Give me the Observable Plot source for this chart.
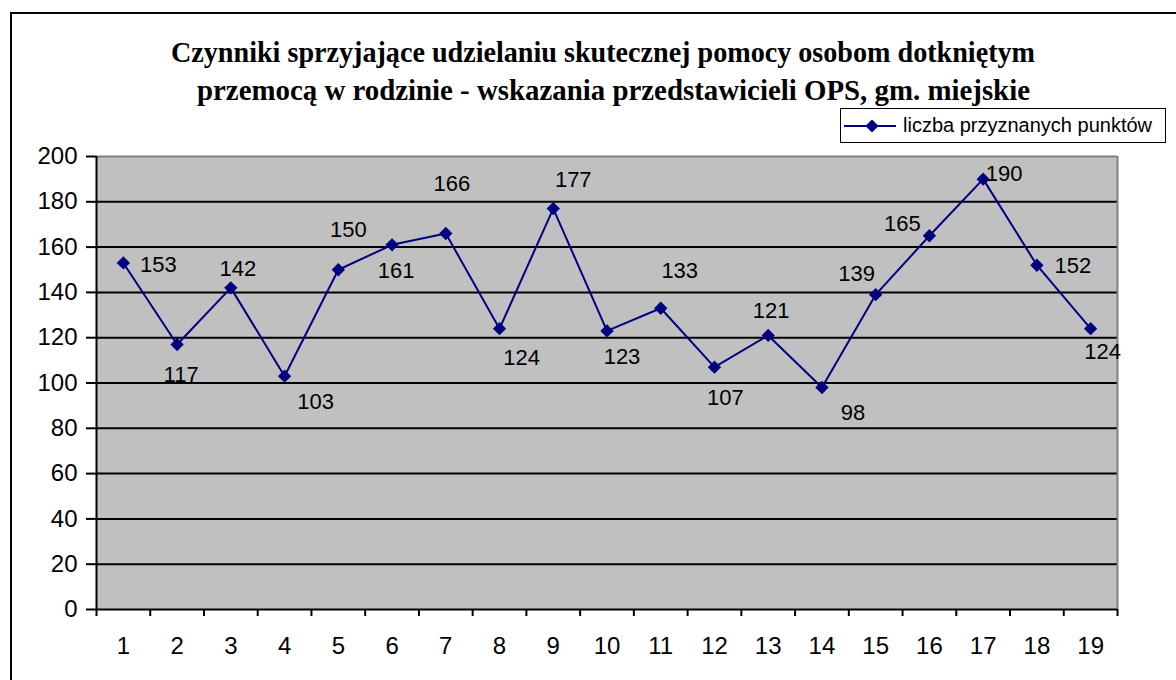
<!DOCTYPE html>
<html>
<head>
<meta charset="utf-8">
<script src="https://cdn.jsdelivr.net/npm/d3@7"></script>
<script src="https://cdn.jsdelivr.net/npm/@observablehq/plot@0.6"></script>
<style>
  html, body { margin: 0; padding: 0; background: #fff; overflow: hidden; }
  #wrap { position: relative; width: 1176px; height: 680px; overflow: hidden; font-family: "Liberation Sans", Arial, sans-serif; color: #000; }
  #border { position: absolute; left: 10px; top: 12px; width: 1200px; height: 700px; border: 2px solid #000; box-sizing: border-box; }
  #chart { position: absolute; left: 0; top: 0; }
  #title { position: absolute; left: 0; top: 0; }
  #legend { position: absolute; left: 840px; top: 108px; width: 326px; height: 35px; box-sizing: border-box; border: 1.5px solid #000; background: #fff; display: flex; align-items: center; }
  #legend span { font-size: 20px; font-family: "Liberation Sans", Arial, sans-serif; margin-left: 4px; white-space: nowrap; }
</style>
</head>
<body>
<div id="wrap">
  <div id="border"></div>
  <div id="chart"></div>
  <svg id="title" width="1176" height="115"></svg>
  <div id="legend"></div>
</div>
<script>
// ---- data ----
const titleLines = [
  "Czynniki sprzyjające udzielaniu skutecznej pomocy osobom dotkniętym",
  "przemocą w rodzinie - wskazania przedstawicieli OPS, gm. miejskie"
];
const seriesName = "liczba przyznanych punktów";
const categories = [1, 2, 3, 4, 5, 6, 7, 8, 9, 10, 11, 12, 13, 14, 15, 16, 17, 18, 19];
const values = [153, 117, 142, 103, 150, 161, 166, 124, 177, 123, 133, 107, 121, 98, 139, 165, 190, 152, 124];
const yTicks = [0, 20, 40, 60, 80, 100, 120, 140, 160, 180, 200];

// ---- style: data-label offsets (px, relative to each point) ----
const labelOffsets = [
  [35, 2], [4, 30], [7, -19], [31, 26], [10, -40], [4, 26], [6, -50], [22, 29], [20, -29], [15, 26],
  [19, -37], [11, 31], [3, -24], [31, 25], [-19, -21], [-27, -12], [21, -5], [36, 1], [12, 23]
];

const data = categories.map((c, i) => ({cat: c, value: values[i]}));
const navy = "#000080";
const boundaries = d3.range(categories.length + 1).map(i => i + 0.5);

const chart = Plot.plot({
  width: 1176,
  height: 680,
  marginLeft: 96,
  marginRight: 59,
  marginTop: 156,
  marginBottom: 71,
  style: {fontFamily: "'Liberation Sans', Arial, sans-serif", background: "transparent", color: "#000"},
  x: {type: "linear", domain: [0.5, categories.length + 0.5]},
  y: {domain: [0, 200]},
  marks: [
    Plot.frame({fill: "#c0c0c0", stroke: null}),
    Plot.gridY(yTicks.filter(t => t > 0 && t < 200), {stroke: "#000", strokeOpacity: 1, strokeWidth: 2}),
    Plot.ruleY([200], {stroke: "#808080", strokeWidth: 2}),
    Plot.ruleX([categories.length + 0.5], {stroke: "#808080", strokeWidth: 2}),
    Plot.ruleX([0.5], {stroke: "#000", strokeWidth: 2}),
    Plot.ruleY([0], {stroke: "#000", strokeWidth: 2}),
    Plot.axisY({ticks: yTicks, tickSize: 10, tickPadding: 9, fontSize: 24, label: null, strokeWidth: 2}),
    Plot.axisX({ticks: boundaries, tickSize: 7, tickFormat: () => "", label: null, strokeWidth: 2}),
    Plot.axisX({ticks: categories, tickSize: 0, tickPadding: 27, fontSize: 24, label: null, tickFormat: d => String(d)}),
    Plot.line(data, {x: "cat", y: "value", stroke: navy, strokeWidth: 2}),
    Plot.dot(data, {x: "cat", y: "value", symbol: "diamond2", r: 6, fill: navy, stroke: null}),
    ...data.map((d, i) => Plot.text([d], {
      x: "cat", y: "value", text: dd => String(dd.value),
      dx: labelOffsets[i][0], dy: labelOffsets[i][1],
      fontSize: 22, fill: "#000"
    }))
  ]
});
document.getElementById("chart").appendChild(chart);

// ---- title ----
const tsvg = d3.select("#title");
const titleGeom = [{x: 171, y: 62, len: 864}, {x: 197, y: 100, len: 833}];
titleLines.forEach((t, i) => {
  tsvg.append("text")
    .attr("x", titleGeom[i].x)
    .attr("y", titleGeom[i].y)
    .attr("textLength", titleGeom[i].len)
    .attr("lengthAdjust", "spacingAndGlyphs")
    .attr("font-family", "'Liberation Serif', 'Times New Roman', serif")
    .attr("font-weight", "bold")
    .attr("font-size", 30)
    .attr("fill", "#000")
    .text(t);
});

// ---- legend ----
const leg = d3.select("#legend");
const ls = leg.append("svg").attr("width", 56).attr("height", 20).style("margin-left", "2px");
ls.append("line").attr("x1", 1).attr("x2", 53).attr("y1", 10).attr("y2", 10).attr("stroke", navy).attr("stroke-width", 2);
ls.append("path").attr("d", d3.symbol(d3.symbolDiamond2, 110)()).attr("transform", "translate(29,10)").attr("fill", navy);
leg.append("span").text(seriesName);
</script>
</body>
</html>
